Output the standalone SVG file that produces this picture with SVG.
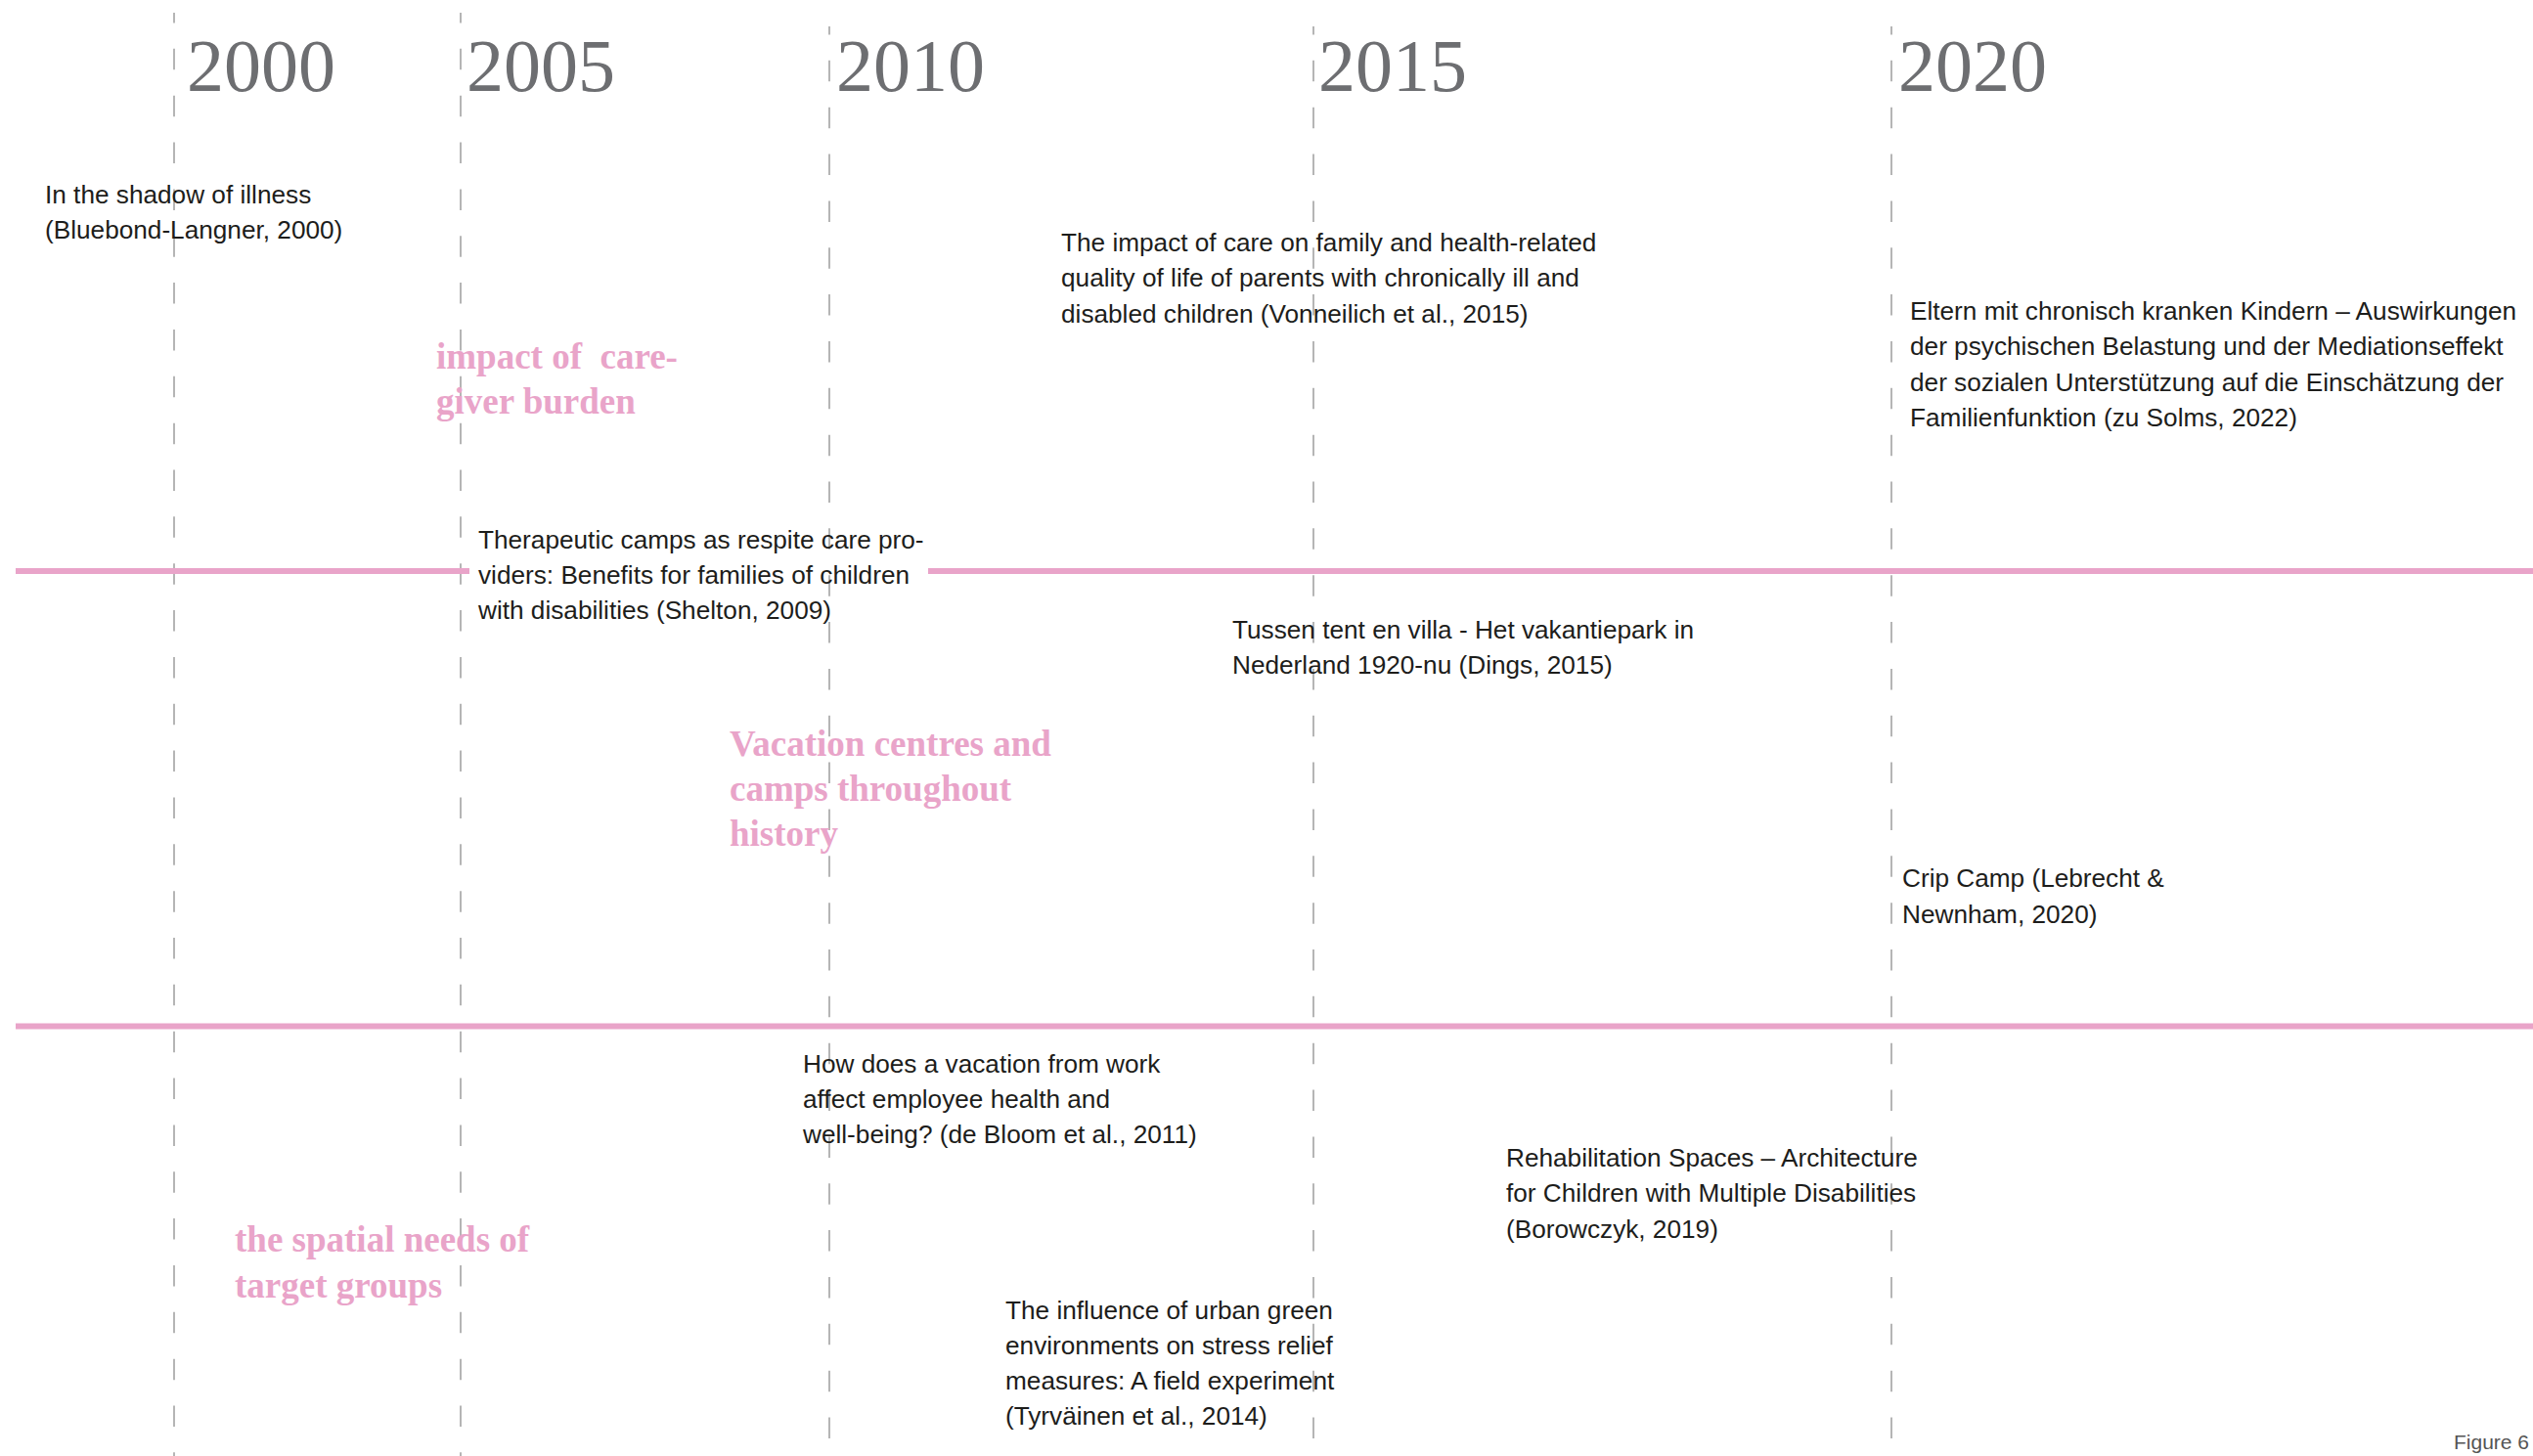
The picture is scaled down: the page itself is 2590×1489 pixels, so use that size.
<svg xmlns="http://www.w3.org/2000/svg" width="2590" height="1489" viewBox="0 0 2590 1489">
  <style>
    .bg { fill: #ffffff; }
    .vline { stroke: #a3a3a3; stroke-width: 1.6; stroke-dasharray: 21.5 26.35; fill: none; }
    .v1 { stroke-dashoffset: 11; }
    .v2 { stroke-dashoffset: 13; }
    .band { stroke: #e9a4c9; stroke-width: 6; fill: none; }
    .year { font-family: "Liberation Serif", "Times New Roman", serif; font-size: 76px; fill: #6d6e71; }
    .ref { font-family: "Liberation Sans", Arial, sans-serif; font-size: 26.2px; fill: #1d1d1b; }
    .topic { font-family: "Liberation Serif", "Times New Roman", serif; font-weight: bold; font-size: 37px; fill: #e9a4c9; }
    .fig { font-family: "Liberation Sans", Arial, sans-serif; font-size: 21px; fill: #555555; }
  </style>
  <rect class="bg" x="0" y="0" width="2590" height="1489"/>

  <g id="connectors">
    <line class="vline v1" x1="178" y1="13" x2="178" y2="1489"/>
    <line class="vline v1" x1="471" y1="13" x2="471" y2="1489"/>
    <line class="vline v2" x1="848" y1="27" x2="848" y2="1474"/>
    <line class="vline v2" x1="1343" y1="27" x2="1343" y2="1474"/>
    <line class="vline v2" x1="1934" y1="27" x2="1934" y2="1474"/>
    <line class="band" x1="16" y1="584" x2="480" y2="584"/>
    <line class="band" x1="949" y1="584" x2="2590" y2="584"/>
    <line class="band" x1="16" y1="1049.5" x2="2590" y2="1049.5"/>
  </g>

  <g id="year-2000"><text class="year" x="191" y="93">2000</text></g>
  <g id="year-2005"><text class="year" x="477" y="93">2005</text></g>
  <g id="year-2010"><text class="year" x="855" y="93">2010</text></g>
  <g id="year-2015"><text class="year" x="1348" y="93">2015</text></g>
  <g id="year-2020"><text class="year" x="1941" y="93">2020</text></g>

  <g id="ref-bluebond">
    <text class="ref" x="46" y="208">In the shadow of illness</text>
    <text class="ref" x="46" y="244">(Bluebond-Langner, 2000)</text>
  </g>

  <g id="ref-vonneilich">
    <text class="ref" x="1085" y="257">The impact of care on family and health-related</text>
    <text class="ref" x="1085" y="293">quality of life of parents with chronically ill and</text>
    <text class="ref" x="1085" y="330">disabled children (Vonneilich et al., 2015)</text>
  </g>

  <g id="ref-solms">
    <text class="ref" x="1953" y="327">Eltern mit chronisch kranken Kindern – Auswirkungen</text>
    <text class="ref" x="1953" y="363">der psychischen Belastung und der Mediationseffekt</text>
    <text class="ref" x="1953" y="400">der sozialen Unterstützung auf die Einschätzung der</text>
    <text class="ref" x="1953" y="436">Familienfunktion (zu Solms, 2022)</text>
  </g>

  <g id="topic-caregiver">
    <text class="topic" x="446" y="377" xml:space="preserve">impact of  care-</text>
    <text class="topic" x="446" y="423">giver burden</text>
  </g>

  <g id="ref-shelton">
    <text class="ref" x="489" y="561">Therapeutic camps as respite care pro-</text>
    <text class="ref" x="489" y="597">viders: Benefits for families of children</text>
    <text class="ref" x="489" y="633">with disabilities (Shelton, 2009)</text>
  </g>

  <g id="ref-dings">
    <text class="ref" x="1260" y="653">Tussen tent en villa - Het vakantiepark in</text>
    <text class="ref" x="1260" y="689">Nederland 1920-nu (Dings, 2015)</text>
  </g>

  <g id="topic-vacation">
    <text class="topic" x="746" y="773">Vacation centres and</text>
    <text class="topic" x="746" y="819">camps throughout</text>
    <text class="topic" x="746" y="865">history</text>
  </g>

  <g id="ref-cripcamp">
    <text class="ref" x="1945" y="907">Crip Camp (Lebrecht &amp;</text>
    <text class="ref" x="1945" y="944">Newnham, 2020)</text>
  </g>

  <g id="ref-debloom">
    <text class="ref" x="821" y="1097">How does a vacation from work</text>
    <text class="ref" x="821" y="1133">affect employee health and</text>
    <text class="ref" x="821" y="1169">well-being? (de Bloom et al., 2011)</text>
  </g>

  <g id="topic-spatial">
    <text class="topic" x="240" y="1280">the spatial needs of</text>
    <text class="topic" x="240" y="1327">target groups</text>
  </g>

  <g id="ref-tyrvainen">
    <text class="ref" x="1028" y="1349">The influence of urban green</text>
    <text class="ref" x="1028" y="1385">environments on stress relief</text>
    <text class="ref" x="1028" y="1421">measures: A field experiment</text>
    <text class="ref" x="1028" y="1457">(Tyrväinen et al., 2014)</text>
  </g>

  <g id="ref-borowczyk">
    <text class="ref" x="1540" y="1193">Rehabilitation Spaces – Architecture</text>
    <text class="ref" x="1540" y="1229">for Children with Multiple Disabilities</text>
    <text class="ref" x="1540" y="1266">(Borowczyk, 2019)</text>
  </g>

  <g id="figure-label">
    <text class="fig" x="2509" y="1482">Figure 6</text>
  </g>
</svg>
